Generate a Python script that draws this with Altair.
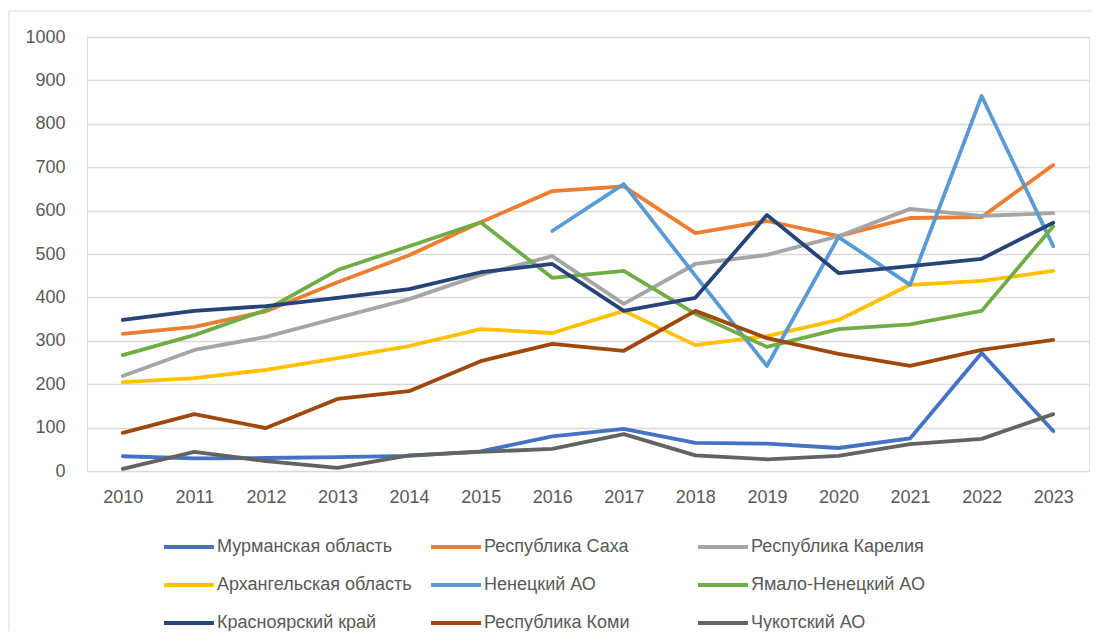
import altair as alt
import pandas as pd

years = [str(y) for y in range(2010, 2024)]

series_names = [
    "Мурманская область", "Республика Саха", "Республика Карелия",
    "Архангельская область", "Ненецкий АО", "Ямало-Ненецкий АО",
    "Красноярский край", "Республика Коми", "Чукотский АО",
]
colors = ["#4472C4", "#ED7D31", "#A5A5A5", "#FFC000", "#5B9BD5", "#70AD47",
          "#264478", "#9E480E", "#636363"]

murmansk = [34, 29, 30, 32, 35, 45, 80, 97, 65, 63, 53, 75, 272, 92]
sakha = [316, 332, 368, 435, 497, 573, 645, 656, 548, 576, 541, 583, 585, 705]
karelia = [219, 279, 309, 353, 396, 452, 495, 385, 477, 498, 541, 604, 588, 594]
arkhangelsk = [205, 214, 233, 260, 288, 327, 318, 369, 290, 311, 348, 429, 438, 461]
nenets = [None, None, None, None, None, None, 553, 661, 450, 242, 539, 429, 864, 518]
yamal = [267, 313, 371, 463, 518, 573, 445, 461, 362, 286, 327, 338, 369, 564]
krasnoyarsk = [348, 369, 380, 399, 419, 458, 477, 369, 399, 590, 456, 472, 489, 572]
komi = [88, 131, 99, 166, 184, 253, 293, 277, 369, 306, 270, 242, 279, 302]
chukotka = [5, 44, 23, 7, 36, 44, 51, 85, 36, 27, 35, 62, 74, 131]

all_series = [murmansk, sakha, karelia, arkhangelsk, nenets, yamal,
              krasnoyarsk, komi, chukotka]

rows = []
for order, (name, vals) in enumerate(zip(series_names, all_series)):
    for yr, v in zip(years, vals):
        if v is not None:
            rows.append({"Год": yr, "Значение": v, "Регион": name, "ord": order})
df = pd.DataFrame(rows)

# legend fills column by column; reorder so it reads row by row (3 per row)
legend_order = [series_names[r * 3 + c] for c in range(3) for r in range(3)]
legend_colors = [colors[series_names.index(n)] for n in legend_order]

FONT = "Liberation Sans"
TXT = "#595959"

lines = alt.Chart(df).mark_line(
    strokeWidth=3.8, strokeCap="round", strokeJoin="round"
).encode(
    x=alt.X("Год:O", title=None, sort=years,
            scale=alt.Scale(type="point", padding=0.5),
            axis=alt.Axis(labelAngle=0, ticks=False, domain=False,
                          labelFontSize=18, labelColor=TXT, labelPadding=17,
                          labelFont=FONT)),
    y=alt.Y("Значение:Q", title=None,
            scale=alt.Scale(domain=[0, 1000], nice=False),
            axis=alt.Axis(values=list(range(0, 1001, 100)), ticks=False,
                          format="d",
                          domain=False, gridColor="#D9D9D9", gridWidth=1.3,
                          labelFontSize=18, labelColor=TXT, labelPadding=22,
                          labelFont=FONT)),
    color=alt.Color("Регион:N", sort=legend_order,
                    scale=alt.Scale(domain=legend_order, range=legend_colors),
                    legend=alt.Legend(
                        title=None, orient="none", legendX=75, legendY=483,
                        columns=3, gridAlign="all", columnPadding=11,
                        rowPadding=2, symbolType="stroke",
                        symbolSize=2500, symbolStrokeWidth=4,
                        labelFontSize=18, labelColor=TXT, labelFont=FONT,
                        labelOffset=1, labelLimit=400)),
    order=alt.Order("ord:Q"),
)

# light chart-area frame (top and left edges visible in the reference)
frame = alt.Chart(pd.DataFrame({"f": [0]})).mark_rect(
    fill=None, stroke="#D9D9D9", strokeWidth=1
).encode(
    x=alt.value(-78), x2=alt.value(1120), y=alt.value(-26), y2=alt.value(640)
)

chart = alt.layer(frame, lines).properties(
    width=1002, height=434,
    autosize=alt.AutoSizeParams(type="none"),
    padding={"left": 79, "top": 29, "right": 3, "bottom": 160},
).configure_view(stroke=None).configure(font=FONT)

chart.save("out.html", embed_options={"renderer": "svg", "actions": False})
